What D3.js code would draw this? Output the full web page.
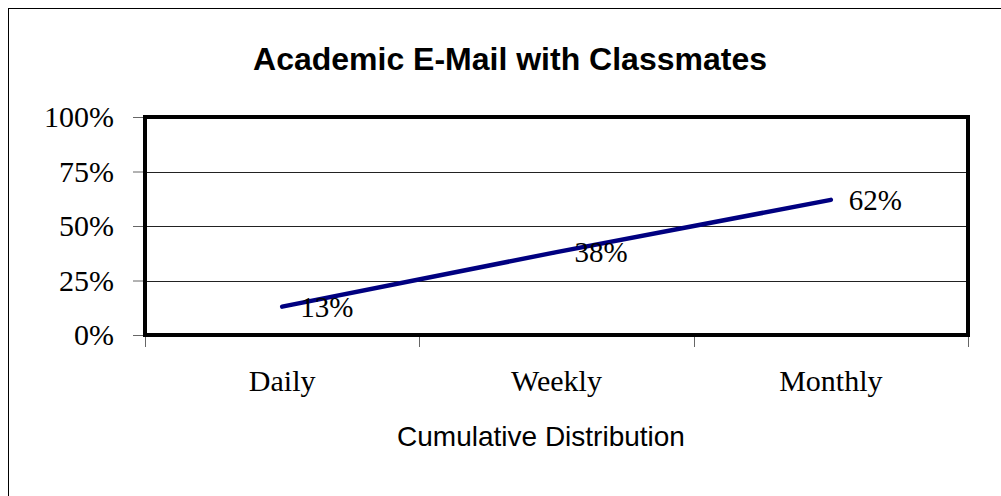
<!DOCTYPE html>
<html>
<head>
<meta charset="utf-8">
<script src="https://cdn.jsdelivr.net/npm/d3@7"></script>
<style>
  html, body { margin: 0; padding: 0; background: #fff; }
  svg { display: block; }
</style>
</head>
<body>
<svg id="chart" width="1001" height="496"></svg>
<script>
const categories = ["Daily", "Weekly", "Monthly"]
const values = [0.13, 0.38, 0.62]
const yTicks = [0, 0.25, 0.5, 0.75, 1]

const width = 1001, height = 496
const plot = {left: 145, right: 968, top: 117, bottom: 335}

const svg = d3.select('#chart')

// outer frame (only left/top visible in the picture)
svg.append('rect')
    .attr('x', 8.5).attr('y', 8.5)
    .attr('width', 1100).attr('height', 600)
    .attr('fill', 'none')
    .attr('stroke', '#000')
    .attr('stroke-width', 1)

const x = d3.scaleBand()
    .domain(categories)
    .range([plot.left, plot.right])

const y = d3.scaleLinear()
    .domain([0, 1])
    .range([plot.bottom, plot.top])

// gridlines
svg.append('g')
    .selectAll('line')
    .data(yTicks.filter(d => d > 0 && d < 1))
    .join('line')
    .attr('x1', plot.left).attr('x2', plot.right)
    .attr('y1', d => Math.round(y(d)) + 0.5)
    .attr('y2', d => Math.round(y(d)) + 0.5)
    .attr('stroke', '#222')
    .attr('stroke-width', 1)

// y axis
const yAxis = svg.append('g')
    .attr('transform', `translate(${plot.left},0)`)
    .call(d3.axisLeft(y).tickValues(yTicks).tickFormat(d3.format('.0%')).tickSize(12).tickPadding(19))
yAxis.select('.domain').remove()
yAxis.selectAll('.tick line').attr('stroke', '#666')
yAxis.selectAll('.tick text')
    .attr('font-family', '"Liberation Serif", "Times New Roman", serif')
    .attr('font-size', 30)
    .attr('fill', '#000')

// x axis: ticks at category boundaries
const bounds = categories.map(c => x(c)).concat([x(categories[categories.length - 1]) + x.bandwidth()])
svg.append('g')
    .selectAll('line')
    .data(bounds)
    .join('line')
    .attr('x1', d => Math.round(d) + 0.5).attr('x2', d => Math.round(d) + 0.5)
    .attr('y1', plot.bottom).attr('y2', plot.bottom + 12)
    .attr('stroke', '#666')

svg.append('g')
    .selectAll('text')
    .data(categories)
    .join('text')
    .attr('x', d => x(d) + x.bandwidth() / 2)
    .attr('y', 391)
    .attr('text-anchor', 'middle')
    .attr('font-family', '"Liberation Serif", "Times New Roman", serif')
    .attr('font-size', 30)
    .text(d => d)

// plot area border
svg.append('rect')
    .attr('x', plot.left).attr('y', plot.top)
    .attr('width', plot.right - plot.left)
    .attr('height', plot.bottom - plot.top)
    .attr('fill', 'none')
    .attr('stroke', '#000')
    .attr('stroke-width', 4)

// series line
const line = d3.line()
    .x((d, i) => x(categories[i]) + x.bandwidth() / 2)
    .y(d => y(d))

svg.append('path')
    .datum(values)
    .attr('d', line)
    .attr('fill', 'none')
    .attr('stroke', '#000080')
    .attr('stroke-width', 4.5)
    .attr('stroke-linecap', 'round')

// data labels
svg.append('g')
    .selectAll('text')
    .data(values)
    .join('text')
    .attr('x', (d, i) => x(categories[i]) + x.bandwidth() / 2 + 18)
    .attr('y', d => y(d) + 10)
    .attr('font-family', '"Liberation Serif", "Times New Roman", serif')
    .attr('font-size', 29)
    .text(d => d3.format('.0%')(d))

// titles
svg.append('text')
    .attr('x', 510).attr('y', 70)
    .attr('text-anchor', 'middle')
    .attr('font-family', '"Liberation Sans", Arial, sans-serif')
    .attr('font-weight', 'bold')
    .attr('font-size', 32)
    .text('Academic E-Mail with Classmates')

svg.append('text')
    .attr('x', 541).attr('y', 446)
    .attr('text-anchor', 'middle')
    .attr('font-family', '"Liberation Sans", Arial, sans-serif')
    .attr('font-size', 28)
    .text('Cumulative Distribution')
</script>
</body>
</html>
